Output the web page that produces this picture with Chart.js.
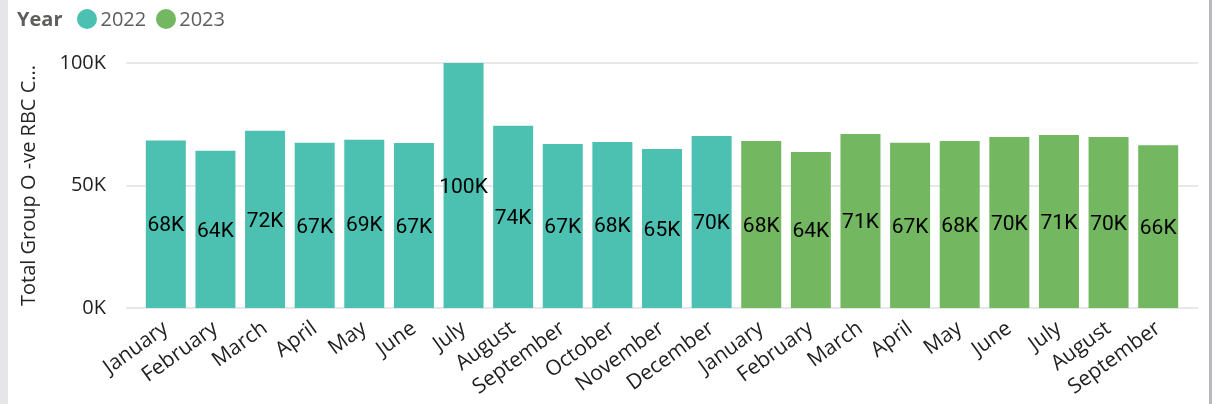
<!DOCTYPE html>
<html>
<head>
<meta charset="utf-8">
<script src="https://cdn.jsdelivr.net/npm/chart.js@4/dist/chart.umd.min.js"></script>
<style>
	html, body { margin: 0; padding: 0; background: #fff; }
	.wrap { position: relative; width: 1212px; height: 404px; overflow: hidden; }
	.strip_left { position: absolute; left: 0; top: 0; width: 8px; height: 404px; background: #e6e6ea; }
	.strip_right { position: absolute; left: 1209px; top: 0; width: 3px; height: 404px; background: #b8b8be; }
	.legend { position: absolute; left: 17px; top: 5px; font-family: "Open Sans", "Noto Sans", sans-serif; font-size: 20px; color: #605e5c; white-space: nowrap; line-height: 28px; }
	.legend b { font-weight: 700; margin-right: 15px; }
	.legend .dot { display: inline-block; width: 20px; height: 20px; border-radius: 50%; vertical-align: -3px; margin-right: 3px; }
	.legend .item { margin-right: 10px; }
	#chart_bulan { position: absolute; left: 0; top: 0; }
</style>
</head>
<body>
<div class="wrap">
	<div class="strip_left"></div>
	<canvas id="chart_bulan" width="1212" height="404"></canvas>
	<div class="legend">
		<b>Year</b><span class="item"><span class="dot" style="background:#4cc0b1"></span>2022</span><span class="item"><span class="dot" style="background:#73b761"></span>2023</span>
	</div>
	<div class="strip_right"></div>
</div>
<script>
var bulan_2022 = ['January', 'February', 'March', 'April', 'May', 'June', 'July', 'August', 'September', 'October', 'November', 'December'];
var bulan_2023 = ['January', 'February', 'March', 'April', 'May', 'June', 'July', 'August', 'September'];
var total_2022 = [68400, 64200, 72300, 67400, 68700, 67300, 100100, 74400, 66900, 67800, 64900, 70200];
var total_2023 = [68200, 63700, 71000, 67400, 68200, 69800, 70600, 69800, 66400];
var tick_y = [0, 50000, 100000];

var warna_2022 = '#4cc0b1';
var warna_2023 = '#73b761';

// gabung label dan data, null supaya tiap bulan cuma satu bar
var labels = bulan_2022.concat(bulan_2023);
var data_2022 = total_2022.concat(bulan_2023.map(function () { return null; }));
var data_2023 = bulan_2022.map(function () { return null; }).concat(total_2023);

function formatK(v) {
	return Math.round(v / 1000) + 'K';
}

// garis grid sendiri, lebih lebar dari area chart
var gridPlugin = {
	id: 'gridLebar',
	beforeDatasetsDraw: function (chart) {
		var ctx = chart.ctx;
		var area = chart.chartArea;
		var y = chart.scales.y;
		ctx.save();
		ctx.strokeStyle = '#e8e8e8';
		ctx.lineWidth = 2;
		for (var i = 0; i < tick_y.length; i++) {
			var py = Math.round(y.getPixelForValue(tick_y[i]));
			ctx.beginPath();
			ctx.moveTo(area.left - 15, py);
			ctx.lineTo(area.right + 15, py);
			ctx.stroke();
		}
		ctx.restore();
	}
}; // end - gridPlugin

// label nilai di tengah bar
var labelPlugin = {
	id: 'labelTengah',
	afterDatasetsDraw: function (chart) {
		var ctx = chart.ctx;
		ctx.save();
		ctx.font = '21px Roboto, "DejaVu Sans", sans-serif';
		ctx.fillStyle = '#000000';
		ctx.textAlign = 'center';
		ctx.textBaseline = 'middle';
		chart.data.datasets.forEach(function (ds, di) {
			var meta = chart.getDatasetMeta(di);
			meta.data.forEach(function (bar, i) {
				var v = ds.data[i];
				if (v === null || v === undefined) return;
				var top = Math.max(bar.y, chart.chartArea.top);
				ctx.fillText(formatK(v), bar.x, (top + bar.base) / 2 + 2);
			});
		});
		ctx.restore();
	}
}; // end - labelPlugin

new Chart('chart_bulan', {
	type: 'bar',
	data: {
		labels: labels,
		datasets: [
			{
				label: '2022',
				data: data_2022,
				backgroundColor: warna_2022,
				borderWidth: 0,
				barPercentage: 0.806,
				categoryPercentage: 1.0
			},
			{
				label: '2023',
				data: data_2023,
				backgroundColor: warna_2023,
				borderWidth: 0,
				barPercentage: 0.806,
				categoryPercentage: 1.0
			}
		]
	},
	options: {
		responsive: false,
		animation: false,
		layout: { padding: { top: 63, left: 8, right: 29, bottom: 0 } },
		scales: {
			x: {
				stacked: true,
				grid: { display: false },
				border: { display: false },
				ticks: {
					autoSkip: false,
					minRotation: 36,
					maxRotation: 36,
					padding: 0,
					color: '#1f1f1f',
					font: { family: '"Open Sans", "Noto Sans", sans-serif', size: 21 }
				},
				afterFit: function (scale) { scale.height = 96; }
			},
			y: {
				stacked: true,
				min: 0,
				max: 100000,
				grid: { display: false, drawTicks: false },
				border: { display: false },
				afterBuildTicks: function (scale) {
					scale.ticks = tick_y.map(function (v) { return { value: v }; });
				},
				ticks: {
					padding: 35,
					color: '#1f1f1f',
					font: { family: '"Open Sans", "Noto Sans", sans-serif', size: 20 },
					callback: function (value) { return formatK(value); }
				},
				title: {
					display: true,
					text: 'Total Group O -ve RBC C...',
					color: '#252423',
					padding: { top: 9, bottom: 0 },
					font: { family: '"Open Sans", "Noto Sans", sans-serif', size: 20 }
				},
				afterFit: function (scale) { scale.width = 133; }
			}
		},
		plugins: {
			legend: { display: false },
			tooltip: { enabled: false }
		}
	},
	plugins: [gridPlugin, labelPlugin]
});
</script>
</body>
</html>
